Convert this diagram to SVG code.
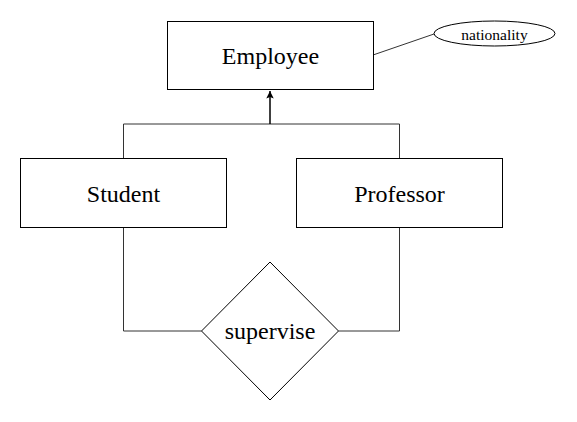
<svg xmlns="http://www.w3.org/2000/svg" width="577" height="422" viewBox="0 0 577 422">
<style>
.box{fill:#fff;stroke:#000;stroke-width:1}
.conn{fill:none;stroke:#333;stroke-width:1}
text{font-family:'Liberation Serif','Times New Roman',serif;fill:#000;text-anchor:middle;dominant-baseline:central}
</style>
<defs>
<marker id="arr" viewBox="0 0 10 10" refX="10" refY="5" markerWidth="5" markerHeight="5" orient="auto">
<path d="M0,0 L10,5 L0,10 L2,5 Z" fill="#000"/>
</marker>
</defs>
<rect width="577" height="422" fill="#fff"/>
<g id="connectors">
<path class="conn" d="M123.5,158 V124 H399.5 V158"/>
<path d="M270,124 V91" fill="none" stroke="#000" stroke-width="1.5" marker-end="url(#arr)"/>
<path class="conn" d="M373,55 L434,34"/>
<path class="conn" d="M123.5,227 V331 H201.5"/>
<path class="conn" d="M399.5,227 V331 H338.5"/>
</g>
<g id="employee">
<rect class="box" x="167.5" y="21.5" width="206" height="68"/>
<text x="270.5" y="56" font-size="24">Employee</text>
</g>
<g id="nationality">
<ellipse class="box" cx="494.5" cy="33.5" rx="60.5" ry="12.5"/>
<text x="494.5" y="34" font-size="15.5">nationality</text>
</g>
<g id="student">
<rect class="box" x="20.5" y="158.5" width="206" height="69"/>
<text x="123.5" y="193.5" font-size="24">Student</text>
</g>
<g id="professor">
<rect class="box" x="296.5" y="158.5" width="206" height="69"/>
<text x="399.5" y="193.5" font-size="24">Professor</text>
</g>
<g id="supervise">
<polygon class="box" points="270,262 338.5,331 270,400 201.5,331"/>
<text x="270" y="331" font-size="24">supervise</text>
</g>
</svg>
